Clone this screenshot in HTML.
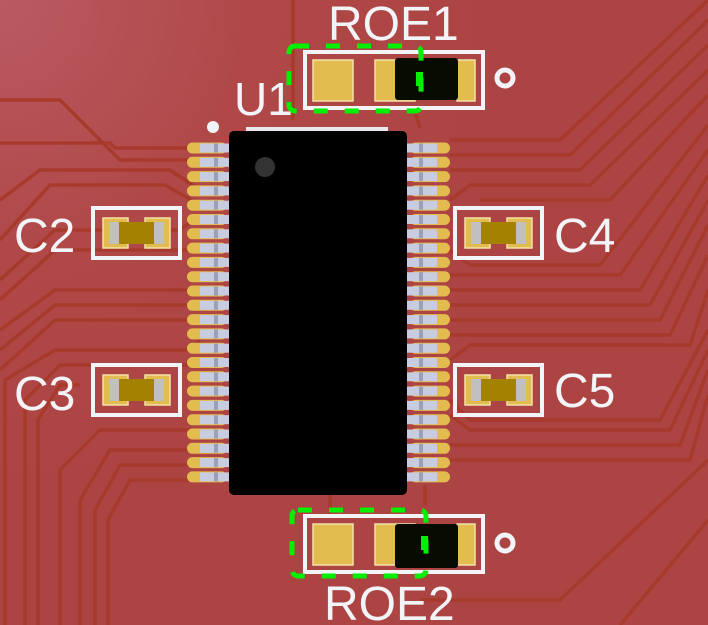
<!DOCTYPE html>
<html><head><meta charset="utf-8"><style>
html,body{margin:0;padding:0;width:708px;height:625px;overflow:hidden;background:#b04646}
svg{display:block}
text{font-family:"Liberation Sans",sans-serif;fill:#f2f4f8}
</style></head><body>
<svg width="708" height="625" viewBox="0 0 708 625" xmlns="http://www.w3.org/2000/svg">
<defs>
<radialGradient id="bg" cx="0" cy="0" r="1" gradientUnits="userSpaceOnUse" gradientTransform="scale(500)">
<stop offset="0" stop-color="#b95a62"/><stop offset="0.5" stop-color="#b04848"/><stop offset="1" stop-color="#ad4444"/>
</radialGradient>
<g id="pinL"><rect x="187" y="-5.5" width="40" height="11" rx="5.5" fill="#e2bc4e"/><rect x="200" y="-4.5" width="30" height="9" fill="#c8cce0"/><rect x="214" y="-4.5" width="4" height="9" fill="#9aa0b8"/></g>
<g id="pinR"><rect x="410" y="-5.5" width="40" height="11" rx="5.5" fill="#e2bc4e"/><rect x="407" y="-4.5" width="30" height="9" fill="#c8cce0"/><rect x="419" y="-4.5" width="4" height="9" fill="#9aa0b8"/></g>
<g id="cap"><rect x="0" y="0" width="87" height="50" fill="none" stroke="#f2f4f8" stroke-width="4"/>
<rect x="10" y="10" width="25" height="30" fill="#e2bc4e" stroke="#f3e2a8" stroke-width="1.5"/><rect x="52" y="10" width="25" height="30" fill="#e2bc4e" stroke="#f3e2a8" stroke-width="1.5"/>
<rect x="16" y="14" width="55" height="22" fill="#a38200"/><rect x="16" y="14" width="10" height="22" fill="#c0c0c0"/><rect x="61" y="14" width="10" height="22" fill="#c0c0c0"/></g>
</defs>
<rect width="708" height="625" fill="url(#bg)"/>
<g fill="none" stroke="#a83a2c" stroke-width="3.5">
<path d="M293 0 V120"/><path d="M0 100 H60 L120 160 H225"/><path d="M0 143 H110 L115 148 H225"/>
<path d="M0 200 L40 170 H170 L200 190"/><path d="M0 240 L50 185 H165 L200 205"/>
<path d="M0 280 L55 230 H180 L200 215"/><path d="M0 300 L55 250 H185 L200 245"/>
<path d="M0 330 L55 290 H225"/><path d="M0 350 L55 305 H225"/><path d="M0 370 L55 320 H225"/>
<path d="M5 625 V380 L55 350 H190 L200 340"/><path d="M25 625 V400 L60 365 H225"/><path d="M38 625 V420 L60 385 H80"/>
<path d="M60 625 V470 L100 430 H190"/><path d="M80 625 V500 L110 450 H225"/><path d="M95 625 V510 L120 465 H225"/>
<path d="M108 625 V520 L130 480 H190"/>
<path d="M708 0 L560 140 H450"/><path d="M708 20 L570 155 H450"/><path d="M708 45 L580 170 H450"/>
<path d="M708 70 L590 185 H470 L450 200"/><path d="M708 95 L610 200 H480"/><path d="M708 125 L600 265 H470 L450 250"/>
<path d="M708 150 L620 275 H450"/><path d="M708 175 L640 290 H450"/><path d="M708 200 L650 305 H450"/>
<path d="M708 225 L660 320 H450"/><path d="M708 255 L670 335 H450"/><path d="M708 290 L690 345 H470 L450 360"/>
<path d="M708 330 L660 420 H470 L450 400"/><path d="M708 350 L670 430 H470 L450 415"/><path d="M708 370 L680 445 H450"/>
<path d="M708 395 L690 460 H450"/><path d="M708 460 L560 600 H420"/><path d="M708 520 L620 625"/>
<path d="M330 495 V515"/><path d="M425 485 V505"/><path d="M415 112 L420 128"/>
</g>
<rect x="246" y="127" width="142" height="8" fill="#e8e8ee"/>
<g>
<use href="#pinL" y="148"/><use href="#pinL" y="162.3"/><use href="#pinL" y="176.6"/><use href="#pinL" y="190.9"/><use href="#pinL" y="205.2"/><use href="#pinL" y="219.5"/><use href="#pinL" y="233.8"/><use href="#pinL" y="248.1"/><use href="#pinL" y="262.4"/><use href="#pinL" y="276.7"/><use href="#pinL" y="291"/><use href="#pinL" y="305.3"/><use href="#pinL" y="319.6"/><use href="#pinL" y="333.9"/><use href="#pinL" y="348.2"/><use href="#pinL" y="362.5"/><use href="#pinL" y="376.8"/><use href="#pinL" y="391.1"/><use href="#pinL" y="405.4"/><use href="#pinL" y="419.7"/><use href="#pinL" y="434"/><use href="#pinL" y="448.3"/><use href="#pinL" y="462.6"/><use href="#pinL" y="476.9"/>
<use href="#pinR" y="148"/><use href="#pinR" y="162.3"/><use href="#pinR" y="176.6"/><use href="#pinR" y="190.9"/><use href="#pinR" y="205.2"/><use href="#pinR" y="219.5"/><use href="#pinR" y="233.8"/><use href="#pinR" y="248.1"/><use href="#pinR" y="262.4"/><use href="#pinR" y="276.7"/><use href="#pinR" y="291"/><use href="#pinR" y="305.3"/><use href="#pinR" y="319.6"/><use href="#pinR" y="333.9"/><use href="#pinR" y="348.2"/><use href="#pinR" y="362.5"/><use href="#pinR" y="376.8"/><use href="#pinR" y="391.1"/><use href="#pinR" y="405.4"/><use href="#pinR" y="419.7"/><use href="#pinR" y="434"/><use href="#pinR" y="448.3"/><use href="#pinR" y="462.6"/><use href="#pinR" y="476.9"/>
</g>
<rect x="229" y="131" width="178" height="364" rx="5" fill="#000"/>
<circle cx="265" cy="167" r="10" fill="#333"/>
<circle cx="213" cy="127" r="6" fill="#f2f4f8"/>
<use href="#cap" x="93" y="208"/><use href="#cap" x="93" y="365"/><use href="#cap" x="455" y="208"/><use href="#cap" x="455" y="365"/>
<rect x="305" y="52" width="178" height="56" fill="none" stroke="#f2f4f8" stroke-width="4"/>
<rect x="313" y="60" width="40" height="41" fill="#e2bc4e" stroke="#f3e2a8" stroke-width="1.5"/>
<rect x="375" y="60" width="40" height="41" fill="#e2bc4e" stroke="#f3e2a8" stroke-width="1.5"/>
<rect x="457" y="60" width="18" height="41" fill="#e2bc4e" stroke="#f3e2a8" stroke-width="1.5"/>
<rect x="395" y="58" width="63" height="42" rx="3" fill="#070b02"/>
<circle cx="505" cy="78" r="8" fill="none" stroke="#f2f4f8" stroke-width="5"/>
<rect x="289" y="46" width="132" height="65" rx="6" fill="none" stroke="#00f000" stroke-width="5" stroke-dasharray="14 17"/>
<rect x="416" y="72" width="7" height="14" fill="#00f000"/>
<rect x="305" y="516" width="178" height="56" fill="none" stroke="#f2f4f8" stroke-width="4"/>
<rect x="313" y="524" width="40" height="41" fill="#e2bc4e" stroke="#f3e2a8" stroke-width="1.5"/>
<rect x="375" y="524" width="40" height="41" fill="#e2bc4e" stroke="#f3e2a8" stroke-width="1.5"/>
<rect x="457" y="524" width="18" height="41" fill="#e2bc4e" stroke="#f3e2a8" stroke-width="1.5"/>
<rect x="395" y="524" width="63" height="44" rx="3" fill="#070b02"/>
<circle cx="505" cy="543" r="8" fill="none" stroke="#f2f4f8" stroke-width="5"/>
<rect x="292" y="510" width="134" height="66" rx="6" fill="none" stroke="#00f000" stroke-width="5" stroke-dasharray="14 17"/>
<rect x="421" y="536" width="7" height="14" fill="#00f000"/>
<text x="328" y="40" font-size="48">ROE1</text>
<text x="234" y="115" font-size="46">U1</text>
<text x="14" y="252" font-size="48">C2</text>
<text x="14" y="410" font-size="48">C3</text>
<text x="554" y="252" font-size="48">C4</text>
<text x="554" y="407" font-size="48">C5</text>
<text x="324" y="620" font-size="48">ROE2</text>
</svg>
</body></html>
